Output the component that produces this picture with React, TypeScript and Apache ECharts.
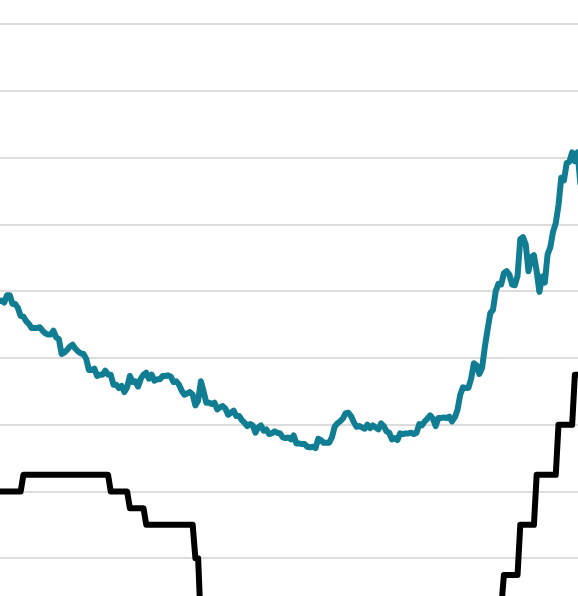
import React, { useEffect, useRef } from "react";
import * as echarts from "echarts";

// Weekly 30-year mortgage rate (%), starting 2018-10-04, one value per week
const mortgageStart = "2018-10-04";
const mortgageRates = [
  // 2018 Oct-Dec
  4.71, 4.90, 4.85, 4.86, 4.83, 4.94, 4.94, 4.81, 4.81, 4.75, 4.63, 4.62, 4.55,
  // 2019
  4.51, 4.45, 4.45, 4.45, 4.46,
  4.41, 4.37, 4.35, 4.35,
  4.41, 4.31, 4.28, 4.06,
  4.08, 4.12, 4.17, 4.20,
  4.14, 4.10, 4.07, 4.06, 3.99,
  3.82, 3.82, 3.84, 3.73,
  3.75, 3.75, 3.81, 3.75,
  3.75, 3.60, 3.60, 3.55, 3.58,
  3.49, 3.56, 3.73, 3.64,
  3.65, 3.57, 3.69, 3.75, 3.78,
  3.69, 3.75, 3.66, 3.68,
  3.68, 3.73, 3.73, 3.74,
  // 2020
  3.72, 3.64, 3.65, 3.60, 3.51,
  3.45, 3.47, 3.49, 3.45,
  3.29, 3.36, 3.65, 3.50,
  3.33, 3.33, 3.31, 3.33, 3.23,
  3.26, 3.28, 3.24, 3.15,
  3.18, 3.21, 3.13, 3.13,
  3.07, 3.03, 2.98, 3.01, 2.99,
  2.88, 2.96, 2.99, 2.91,
  2.93, 2.86, 2.87, 2.90,
  2.88, 2.87, 2.81, 2.80, 2.81,
  2.78, 2.84, 2.72, 2.72,
  2.71, 2.71, 2.67, 2.66, 2.67,
  // 2021
  2.65, 2.79, 2.77, 2.73,
  2.73, 2.73, 2.81, 2.97,
  3.02, 3.05, 3.09, 3.17,
  3.18, 3.13, 3.04, 2.97, 2.98,
  2.96, 2.94, 3.00, 2.95,
  2.99, 2.96, 2.93, 3.02,
  2.98, 2.90, 2.88, 2.78, 2.80,
  2.77, 2.87, 2.86, 2.87,
  2.87, 2.88, 2.86, 2.88, 3.01,
  2.99, 3.05, 3.09, 3.14,
  3.09, 2.98, 3.10, 3.10,
  3.11, 3.10, 3.12, 3.05, 3.11,
  // 2022
  3.22, 3.45, 3.56, 3.55,
  3.55, 3.69, 3.92, 3.89,
  3.76, 3.85, 4.16, 4.42, 4.67,
  4.72, 5.00, 5.11, 5.10,
  5.27, 5.30, 5.25, 5.10,
  5.09, 5.23, 5.78, 5.81, 5.70,
  5.30, 5.51, 5.54, 5.30,
  4.99, 5.22, 5.13, 5.55,
  5.66, 5.89, 6.02, 6.29, 6.70,
  6.66, 6.92, 6.94, 7.08,
  6.95, 7.08, 6.61,
];

// Fed funds target range, lower bound (%), with the dates it took effect
const fedChangeDates = [
  "2018-09-27", "2018-12-20", "2019-08-01", "2019-09-19", "2019-10-31",
  "2020-03-04", "2020-03-16", "2022-03-17", "2022-05-05", "2022-06-16",
  "2022-07-28", "2022-09-22", "2022-11-03",
];
const fedLowerBound = [
  2.0, 2.25, 2.0, 1.75, 1.5, 1.0, 0.0, 0.25, 0.75, 1.5, 2.25, 3.0, 3.75,
];

const xMin = "2018-10-21";
const xMax = "2022-11-11";
const yMin = 0;
const yMax = 9;
const yStep = 1;

const DAY = 86400000;
const ts = (s: string) => new Date(s + "T00:00:00Z").getTime();

export default function App() {
  const ref = useRef<HTMLDivElement>(null);

  useEffect(() => {
    document.body.style.margin = "0";
    document.body.style.overflow = "hidden";
    if (!ref.current) return;
    const chart = echarts.init(ref.current, null, { renderer: "svg" });

    const start = ts(mortgageStart);
    const weeks = mortgageRates.map((_, i) => start + i * 7 * DAY);
    const mortgage = weeks.map((t, i) => [t, mortgageRates[i]]);
    const changes = fedChangeDates.map(ts);
    const fed = weeks.map((t) => {
      let v = fedLowerBound[0];
      for (let k = 0; k < changes.length; k++) {
        if (changes[k] <= t) v = fedLowerBound[k];
      }
      return [t, v];
    });

    chart.setOption({
      animation: false,
      backgroundColor: "#ffffff",
      grid: { left: 0, right: 0, top: 24.2, bottom: 0, containLabel: false },
      xAxis: {
        type: "time",
        min: ts(xMin),
        max: ts(xMax),
        axisLine: { show: false },
        axisTick: { show: false },
        axisLabel: { show: false },
        splitLine: { show: false },
      },
      yAxis: {
        type: "value",
        min: yMin,
        max: yMax,
        interval: yStep,
        axisLine: { show: false },
        axisTick: { show: false },
        axisLabel: { show: false },
        splitLine: { show: true, lineStyle: { color: "#dcdcdc", width: 2 } },
      },
      series: [
        {
          name: "30-year mortgage rate",
          type: "line",
          data: mortgage,
          showSymbol: false,
          symbol: "none",
          clip: true,
          lineStyle: { color: "#107d93", width: 6, join: "round", cap: "round" },
          z: 3,
        },
        {
          name: "Fed funds rate",
          type: "line",
          data: fed,
          showSymbol: false,
          symbol: "none",
          clip: true,
          lineStyle: { color: "#000000", width: 6, join: "round", cap: "round" },
          z: 4,
        },
      ],
    });

    return () => chart.dispose();
  }, []);

  return (
    <div
      style={{
        position: "absolute",
        left: 0,
        top: 0,
        width: 578,
        height: 596,
        overflow: "hidden",
        background: "#ffffff",
      }}
    >
      <div ref={ref} style={{ width: 578, height: 625.4 }} />
    </div>
  );
}
